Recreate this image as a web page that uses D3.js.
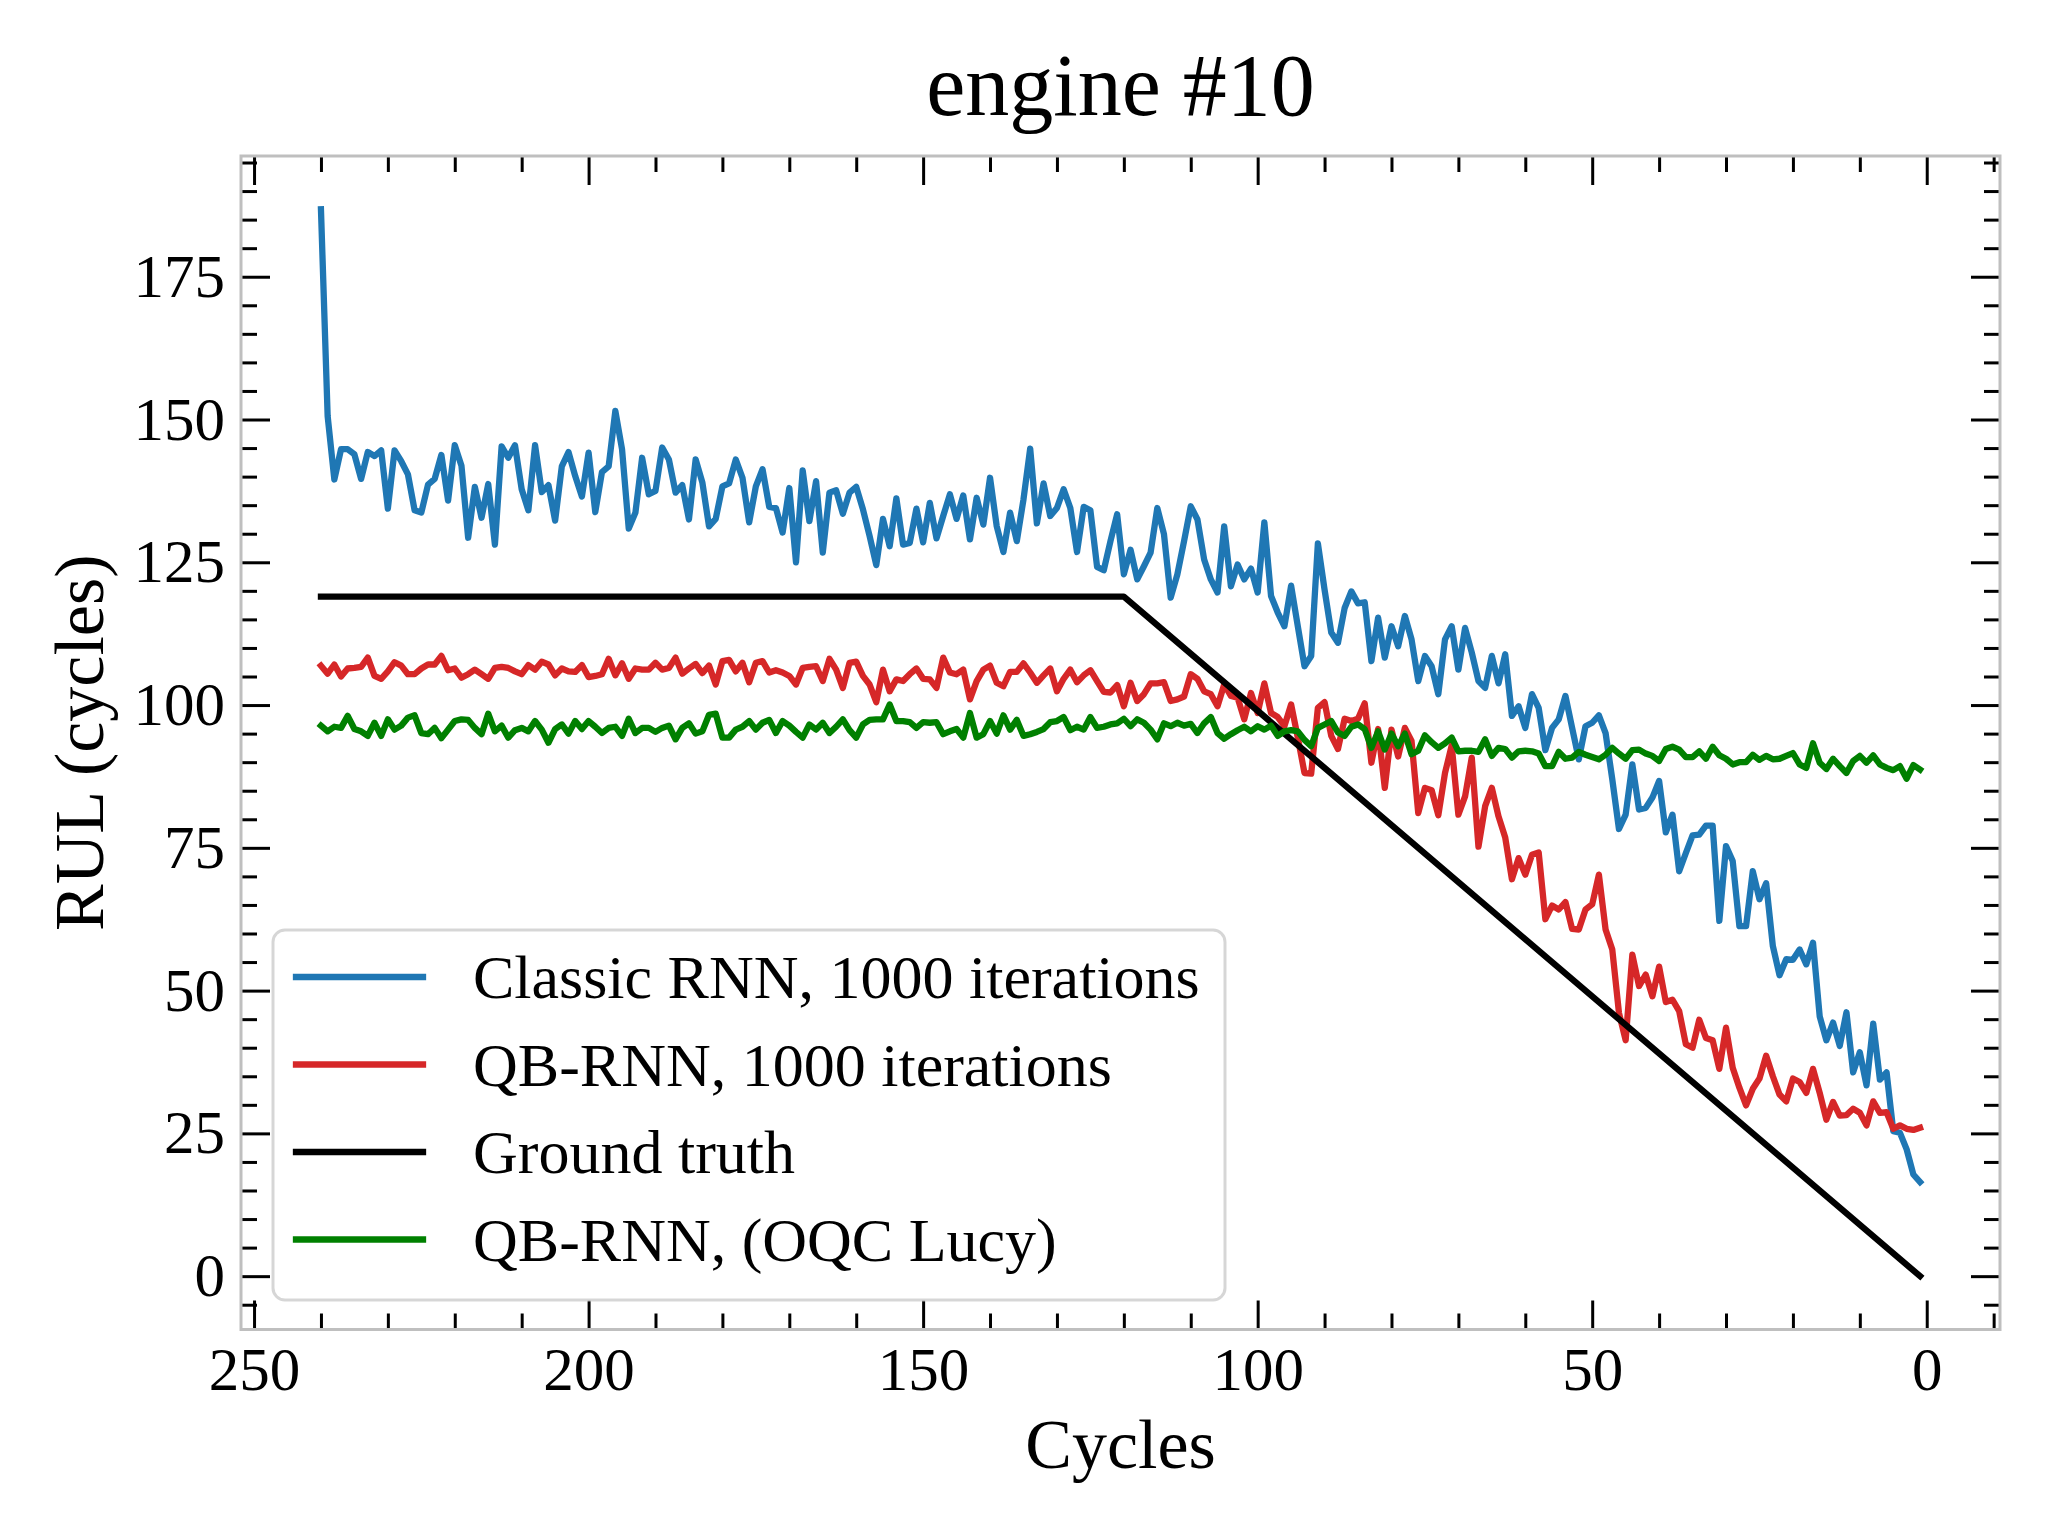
<!DOCTYPE html>
<html>
<head>
<meta charset="utf-8">
<script src="https://cdn.jsdelivr.net/npm/d3@7"></script>
<style>
  html, body { margin: 0; padding: 0; background: #ffffff; }
  svg text { font-family: "Liberation Serif", "Times New Roman", serif; fill: #000; }
</style>
</head>
<body>
<svg id="chart" width="2048" height="1536"></svg>
<script>
// ---------------- data ----------------
const cycles = d3.range(240, 0, -1); // 240 ... 1

const classicRNN = [
  186.8,150.6,139.5,144.8,144.8,143.9,139.6,144.3,143.6,144.6,
  134.4,144.6,142.7,140.4,134.1,133.7,138.6,139.6,143.8,135.8,
  145.5,141.9,129.3,138.2,132.8,138.7,128.1,145.3,143.3,145.5,
  137.8,134.1,145.5,137.3,138.5,132.3,141.8,144.3,140.1,136.5,
  144.2,133.8,140.8,141.8,151.5,144.8,130.9,133.7,143.3,136.9,
  137.5,145.1,143.0,137.2,138.5,132.5,143.0,139.0,131.3,132.6,
  138.3,138.8,143.0,139.8,132.0,138.3,141.3,134.7,134.5,130.2,
  138.0,125.0,141.1,132.2,139.2,126.7,137.2,137.6,133.5,137.2,
  138.2,134.3,129.6,124.5,132.6,127.8,136.2,128.1,128.4,134.4,
  128.5,135.4,129.2,133.1,136.9,132.6,136.7,129.0,136.3,131.6,
  139.8,131.3,126.8,133.7,128.7,136.0,144.9,131.8,138.8,133.1,
  134.5,137.8,134.5,126.8,134.7,134.1,124.2,123.6,128.7,133.4,
  122.9,127.2,122.0,124.3,126.7,134.5,129.9,118.8,122.9,128.7,
  134.8,132.5,125.5,122.0,119.7,131.3,120.8,124.6,122.0,123.9,
  119.7,132.0,119.1,116.2,113.8,120.9,113.8,106.8,108.6,128.3,
  120.2,112.7,110.9,117.0,119.9,117.8,118.0,107.7,115.3,108.3,
  113.8,110.3,115.6,111.5,104.2,108.6,106.8,101.9,111.5,113.8,
  106.2,113.5,109.2,104.2,103.0,108.6,103.8,108.9,98.1,99.8,
  96.0,101.9,99.5,92.1,96.0,97.5,101.6,96.0,90.5,96.3,
  96.9,98.2,95.1,87.0,78.3,80.8,89.6,81.7,82.0,83.8,
  86.7,77.7,80.8,70.9,74.1,77.2,77.3,78.9,78.9,62.2,
  75.3,72.7,61.3,61.3,70.9,66.0,68.8,57.8,52.7,55.5,
  55.4,57.2,54.6,58.4,45.5,41.3,44.4,40.3,46.2,35.7,
  39.2,33.4,44.2,34.4,35.7,25.4,25.1,22.2,17.8,16.5
];

const qbRNN = [
  106.9,105.5,107.1,105.0,106.4,106.5,106.7,108.3,105.1,104.6,
  105.9,107.5,106.9,105.4,105.4,106.4,107.1,107.1,108.6,106.1,
  106.4,104.8,105.4,106.2,105.4,104.6,106.5,106.7,106.5,105.9,
  105.4,107.0,106.2,107.6,107.1,105.2,106.4,105.9,105.8,107.0,
  104.9,105.1,105.4,108.1,105.2,107.3,104.6,106.4,106.2,106.2,
  107.4,106.2,106.5,108.3,105.5,106.4,107.2,105.6,106.9,103.6,
  107.7,107.9,105.9,107.4,104.0,107.4,107.7,105.7,106.1,105.7,
  105.1,103.6,106.5,106.7,106.8,104.2,108.1,106.2,103.0,107.4,
  107.6,105.1,103.6,100.5,106.2,102.4,104.5,104.2,105.4,106.4,
  104.6,104.5,103.0,108.3,105.7,105.4,106.2,101.0,104.2,106.2,
  106.9,103.9,103.3,105.8,105.8,107.3,105.7,103.9,105.2,106.4,
  102.4,104.6,106.2,104.0,105.2,106.1,104.2,102.3,102.2,103.5,
  99.8,103.9,100.7,101.9,103.8,103.8,104.0,100.7,101.0,101.5,
  105.4,104.6,102.4,101.9,99.8,103.6,101.6,101.3,97.5,102.1,
  98.6,103.8,98.6,97.9,96.3,100.1,94.3,88.1,88.0,99.5,
  100.5,94.6,92.3,97.6,97.2,97.6,100.3,89.9,95.8,85.5,
  95.7,91.0,96.0,93.7,81.1,85.5,85.1,80.7,88.1,92.9,
  80.8,84.0,90.8,75.2,82.3,85.5,80.5,76.8,69.5,73.2,
  70.3,73.8,74.2,62.5,64.9,64.2,65.5,60.8,60.7,64.2,
  65.1,70.3,60.7,57.2,46.1,41.3,56.3,50.8,52.8,49.0,
  54.2,48.0,48.4,46.4,40.6,40.0,44.9,41.7,41.3,36.3,
  43.5,36.5,33.0,29.9,32.8,34.6,38.6,35.0,31.8,30.6,
  34.6,34.0,32.1,36.3,32.1,27.4,30.5,28.1,28.2,29.3,
  28.6,26.4,30.6,28.6,28.7,25.8,26.4,25.8,25.6,26.0
];

const qbRNNLucy = [
  96.4,95.4,96.2,96.0,98.1,95.8,95.4,94.6,96.9,94.6,
  97.5,95.7,96.4,97.8,98.2,95.1,94.9,96.0,94.2,95.7,
  97.2,97.5,97.4,96.0,94.9,98.5,95.4,96.4,94.3,95.6,
  96.0,95.4,97.2,95.7,93.4,95.8,96.6,95.0,97.2,95.8,
  97.2,96.2,95.1,96.0,96.2,94.6,97.6,95.1,96.0,96.0,
  95.3,96.0,96.4,94.0,96.0,96.8,95.0,95.4,98.3,98.5,
  94.3,94.3,95.7,96.2,97.2,95.7,96.9,97.4,95.1,97.2,
  96.4,95.3,94.3,96.6,95.7,96.9,95.1,96.2,97.5,95.6,
  94.3,96.6,97.4,97.5,97.5,100.1,97.2,97.2,97.0,96.0,
  97.0,96.9,97.0,94.9,95.4,95.8,94.3,98.6,94.3,94.9,
  97.2,95.0,98.2,95.7,97.4,94.6,94.9,95.3,95.8,97.0,
  97.2,97.9,95.6,96.2,95.7,97.9,96.0,96.2,96.6,96.8,
  97.6,96.3,97.5,96.9,95.7,94.0,96.8,96.3,96.9,96.4,
  96.7,95.1,96.8,97.9,95.1,94.1,94.9,95.6,96.2,95.4,
  96.3,95.7,96.4,94.6,95.4,95.6,95.4,93.9,92.8,96.0,
  96.6,97.2,95.2,94.6,96.2,96.6,95.8,92.5,95.4,92.2,
  95.0,92.8,95.0,91.4,92.0,94.7,93.5,92.5,93.3,94.3,
  91.9,92.0,92.0,91.8,94.0,91.1,92.5,92.3,90.8,91.9,
  92.0,91.9,91.5,89.3,89.3,91.8,90.6,90.8,91.8,91.3,
  90.9,90.5,91.3,92.5,91.5,90.6,92.1,92.2,91.5,91.1,
  90.2,92.3,92.7,92.2,90.9,90.9,91.9,90.6,92.7,91.2,
  90.6,89.6,90.0,90.0,91.3,90.4,91.1,90.5,90.6,91.1,
  91.6,89.6,89.0,93.3,89.9,88.8,90.6,89.3,88.1,90.2,
  91.1,89.9,91.2,89.6,89.0,88.6,89.3,87.1,89.5,88.7
];

// ground truth: piecewise linear, breakpoints
const groundTruthCycles = [240, 120, 1];
const groundTruthValues = [119, 119, 0];

const xTickValues = [250, 200, 150, 100, 50, 0];
const xTickLabels = ["250", "200", "150", "100", "50", "0"];
const yTickValues = [0, 25, 50, 75, 100, 125, 150, 175];
const yTickLabels = ["0", "25", "50", "75", "100", "125", "150", "175"];

const seriesNames = ["Classic RNN, 1000 iterations", "QB-RNN, 1000 iterations", "Ground truth", "QB-RNN, (OQC Lucy)"];
const seriesColors = ["#1f77b4", "#d62728", "#000000", "#008000"];

const titleText = "engine #10";
const xLabelText = "Cycles";
const yLabelText = "RUL (cycles)";

// ---------------- layout ----------------
const svg = d3.select("#chart");
const L = 241, R = 2000, T = 156, B = 1329.5;
const LW = 6.3;

svg.append("rect").attr("x", 0).attr("y", 0).attr("width", 2048).attr("height", 1536).attr("fill", "#fff");

const allY = classicRNN.concat(qbRNN, qbRNNLucy, groundTruthValues);
const xMin = d3.min(cycles), xMax = d3.max(cycles);
const yMin = d3.min(allY), yMax = d3.max(allY);
const xPad = (xMax - xMin) * 0.05, yPad = (yMax - yMin) * 0.05;

const x = d3.scaleLinear().domain([xMax + xPad, xMin - xPad]).range([L, R]);
const y = d3.scaleLinear().domain([yMin - yPad, yMax + yPad]).range([B, T]);

const MAJ = 29, MIN = 16, TW = 3;
const xMinor = d3.range(-10, 251, 10).filter(v => v % 50 !== 0);
const yMinor = d3.range(-5, 196, 5).filter(v => v % 25 !== 0);

function styleAxis(g) {
  g.select(".domain").remove();
  g.selectAll(".tick line").attr("stroke", "#000").attr("stroke-width", TW);
}

// bottom
svg.append("g").attr("transform", `translate(0,${B})`)
  .call(d3.axisBottom(x).tickValues(xTickValues).tickSize(-MAJ).tickPadding(17)
        .tickFormat((d, i) => xTickLabels[i]))
  .call(styleAxis)
  .call(g => g.selectAll("text").attr("font-size", 61).attr("font-family", "Liberation Serif"));
svg.append("g").attr("transform", `translate(0,${B})`)
  .call(d3.axisBottom(x).tickValues(xMinor).tickSize(-MIN).tickFormat(""))
  .call(styleAxis);
// top
svg.append("g").attr("transform", `translate(0,${T})`)
  .call(d3.axisTop(x).tickValues(xTickValues).tickSize(-MAJ).tickFormat(""))
  .call(styleAxis);
svg.append("g").attr("transform", `translate(0,${T})`)
  .call(d3.axisTop(x).tickValues(xMinor).tickSize(-MIN).tickFormat(""))
  .call(styleAxis);
// left
svg.append("g").attr("transform", `translate(${L},0)`)
  .call(d3.axisLeft(y).tickValues(yTickValues).tickSize(-MAJ).tickPadding(16)
        .tickFormat((d, i) => yTickLabels[i]))
  .call(styleAxis)
  .call(g => g.selectAll("text").attr("font-size", 61).attr("font-family", "Liberation Serif"));
svg.append("g").attr("transform", `translate(${L},0)`)
  .call(d3.axisLeft(y).tickValues(yMinor).tickSize(-MIN).tickFormat(""))
  .call(styleAxis);
// right
svg.append("g").attr("transform", `translate(${R},0)`)
  .call(d3.axisRight(y).tickValues(yTickValues).tickSize(-MAJ).tickFormat(""))
  .call(styleAxis);
svg.append("g").attr("transform", `translate(${R},0)`)
  .call(d3.axisRight(y).tickValues(yMinor).tickSize(-MIN).tickFormat(""))
  .call(styleAxis);

// spines
svg.append("rect").attr("x", L).attr("y", T).attr("width", R - L).attr("height", B - T)
  .attr("fill", "none").attr("stroke", "#bfbfbf").attr("stroke-width", 3);

// ---------------- lines ----------------
const line = d3.line().x(d => x(d[0])).y(d => y(d[1]));
const seriesData = [
  d3.zip(cycles, classicRNN),
  d3.zip(cycles, qbRNN),
  d3.zip(groundTruthCycles, groundTruthValues),
  d3.zip(cycles, qbRNNLucy)
];
seriesData.forEach((data, i) => {
  svg.append("path").datum(data)
    .attr("d", line)
    .attr("fill", "none")
    .attr("stroke", seriesColors[i])
    .attr("stroke-width", LW)
    .attr("stroke-linejoin", "round")
    .attr("stroke-linecap", "square");
});

// ---------------- legend ----------------
const lg = svg.append("g");
lg.append("rect").attr("x", 273).attr("y", 930).attr("width", 952).attr("height", 370)
  .attr("rx", 12).attr("ry", 12)
  .attr("fill", "#ffffff").attr("fill-opacity", 0.8)
  .attr("stroke", "#cccccc").attr("stroke-opacity", 0.8).attr("stroke-width", 3);
seriesNames.forEach((name, i) => {
  const yy = 977 + i * 87.5;
  lg.append("line").attr("x1", 296).attr("x2", 423).attr("y1", yy).attr("y2", yy)
    .attr("stroke", seriesColors[i]).attr("stroke-width", LW).attr("stroke-linecap", "square");
  lg.append("text").attr("x", 473).attr("y", yy + 21).attr("font-size", 62).text(name);
});

// ---------------- titles ----------------
svg.append("text").attr("x", (L + R) / 2).attr("y", 115).attr("text-anchor", "middle")
  .attr("font-size", 88).text(titleText);
svg.append("text").attr("x", (L + R) / 2).attr("y", 1468).attr("text-anchor", "middle")
  .attr("font-size", 70).text(xLabelText);
svg.append("text").attr("transform", `translate(103,${(T + B) / 2}) rotate(-90)`)
  .attr("text-anchor", "middle").attr("font-size", 70).text(yLabelText);
</script>
</body>
</html>
